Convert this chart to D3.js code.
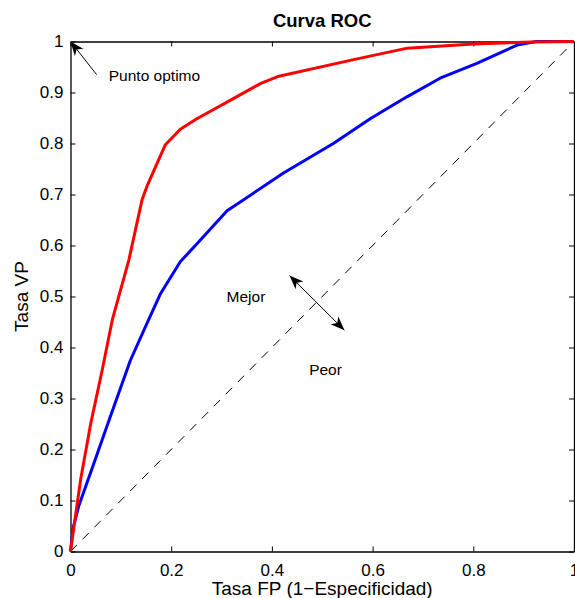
<!DOCTYPE html>
<html>
<head>
<meta charset="utf-8">
<script src="https://cdn.jsdelivr.net/npm/d3@7"></script>
<style>
  html, body { margin: 0; padding: 0; background: #fff; }
  svg { display: block; font-family: "Liberation Sans", Arial, Helvetica, sans-serif; }
</style>
</head>
<body>
<svg id="chart" width="575" height="598"></svg>
<script>
// ---- data ----
const redFPR = [0, 0.007, 0.02, 0.04, 0.063, 0.083, 0.116, 0.142, 0.153, 0.188, 0.218, 0.25, 0.327, 0.378, 0.414, 0.56, 0.669, 0.8, 0.916, 1];
const redTPR = [0, 0.05, 0.14, 0.25, 0.356, 0.454, 0.572, 0.689, 0.719, 0.797, 0.828, 0.848, 0.89, 0.918, 0.932, 0.964, 0.987, 0.995, 0.999, 1];
const blueFPR = [0, 0.005, 0.016, 0.043, 0.079, 0.119, 0.155, 0.179, 0.218, 0.258, 0.311, 0.423, 0.522, 0.596, 0.669, 0.734, 0.807, 0.887, 0.925, 1];
const blueTPR = [0, 0.045, 0.088, 0.163, 0.264, 0.375, 0.454, 0.506, 0.568, 0.611, 0.668, 0.742, 0.8, 0.849, 0.892, 0.928, 0.957, 0.993, 1, 1];
const diagFPR = [0, 1];
const diagTPR = [0, 1];
const xTicks = [0, 0.2, 0.4, 0.6, 0.8, 1];
const yTicks = [0, 0.1, 0.2, 0.3, 0.4, 0.5, 0.6, 0.7, 0.8, 0.9, 1];
const xTickLabels = ["0", "0.2", "0.4", "0.6", "0.8", "1"];
const yTickLabels = ["0", "0.1", "0.2", "0.3", "0.4", "0.5", "0.6", "0.7", "0.8", "0.9", "1"];
const titleText = "Curva ROC";
const xLabelText = "Tasa FP (1\u2212Especificidad)";
const yLabelText = "Tasa VP";

// ---- layout ----
const L = 70.5, R = 574, T = 41.5, B = 551.5;
const svg = d3.select("#chart");
svg.append("rect").attr("width", 575).attr("height", 598).attr("fill", "#fff");

const x = d3.scaleLinear().domain([0, 1]).range([L, R]);
const y = d3.scaleLinear().domain([0, 1]).range([B, T]);

const fontTick = 17;

// axes (box with inward ticks on all sides)
const tl = 5;
const gB = svg.append("g").attr("transform", `translate(0,${B})`)
  .call(d3.axisBottom(x).tickValues(xTicks).tickSizeInner(-tl).tickSizeOuter(0).tickPadding(11)
    .tickFormat((d, i) => xTickLabels[i]));
const gT = svg.append("g").attr("transform", `translate(0,${T})`)
  .call(d3.axisTop(x).tickValues(xTicks).tickSizeInner(-tl).tickSizeOuter(0).tickFormat(""));
const gL = svg.append("g").attr("transform", `translate(${L},0)`)
  .call(d3.axisLeft(y).tickValues(yTicks).tickSizeInner(-tl).tickSizeOuter(0).tickPadding(7)
    .tickFormat((d, i) => yTickLabels[i]));
const gR = svg.append("g").attr("transform", `translate(${R},0)`)
  .call(d3.axisRight(y).tickValues(yTicks).tickSizeInner(-tl).tickSizeOuter(0).tickFormat(""));
[gB, gT, gL, gR].forEach(g => {
  g.selectAll(".domain").attr("stroke", "#000").attr("stroke-width", 1.3);
  g.selectAll(".tick line").attr("stroke", "#000").attr("stroke-width", 1);
  g.selectAll("text").attr("fill", "#000").attr("font-size", fontTick)
    .attr("font-family", "'Liberation Sans', Arial, sans-serif");
});
gB.selectAll("text").attr("dy", null).attr("dominant-baseline", "alphabetic").attr("y", 24);

// curves
const line = d3.line().x(d => x(d[0])).y(d => y(d[1]));
const diagData = d3.zip(diagFPR, diagTPR);
svg.append("path").datum(diagData).attr("d", line)
  .attr("fill", "none").attr("stroke", "#000").attr("stroke-width", 1)
  .attr("stroke-dasharray", "9,8");
svg.append("path").datum(d3.zip(blueFPR, blueTPR)).attr("d", line)
  .attr("fill", "none").attr("stroke", "#0000ff").attr("stroke-width", 3)
  .attr("stroke-linejoin", "round");
svg.append("path").datum(d3.zip(redFPR, redTPR)).attr("d", line)
  .attr("fill", "none").attr("stroke", "#ff0000").attr("stroke-width", 3)
  .attr("stroke-linejoin", "round");

// arrow helper
function arrowHead(tipX, tipY, fromX, fromY) {
  const dx = tipX - fromX, dy = tipY - fromY;
  const len = Math.hypot(dx, dy);
  const ux = dx / len, uy = dy / len;
  const px = -uy, py = ux;
  const hl = 14, hw = 5.5, back = 10;
  const pts = [
    [tipX, tipY],
    [tipX - ux * hl + px * hw, tipY - uy * hl + py * hw],
    [tipX - ux * back, tipY - uy * back],
    [tipX - ux * hl - px * hw, tipY - uy * hl - py * hw]
  ];
  svg.append("polygon").attr("points", pts.map(p => p.join(",")).join(" ")).attr("fill", "#000");
}
function arrowLine(x1, y1, x2, y2) {
  svg.append("line").attr("x1", x1).attr("y1", y1).attr("x2", x2).attr("y2", y2)
    .attr("stroke", "#000").attr("stroke-width", 1);
}

// Punto optimo annotation
const poTail = [x(0.052), y(0.935)], poTip = [x(0), y(1)];
arrowLine(poTail[0], poTail[1], poTip[0] + 4, poTip[1] + 5);
arrowHead(poTip[0], poTip[1], poTail[0], poTail[1]);
svg.append("text").attr("x", x(0.076)).attr("y", y(0.922)).attr("font-size", 15.5)
  .attr("fill", "#000").text("Punto optimo");

// Mejor / Peor double arrow
const dA = [x(0.435), y(0.541)], dB = [x(0.544), y(0.434)];
arrowLine(dA[0], dA[1], dB[0], dB[1]);
arrowHead(dA[0], dA[1], dB[0], dB[1]);
arrowHead(dB[0], dB[1], dA[0], dA[1]);
svg.append("text").attr("x", x(0.31)).attr("y", y(0.49)).attr("font-size", 15.5)
  .attr("fill", "#000").text("Mejor");
svg.append("text").attr("x", x(0.474)).attr("y", y(0.346)).attr("font-size", 15.5)
  .attr("fill", "#000").text("Peor");

// titles
svg.append("text").attr("x", (L + R) / 2).attr("y", 27).attr("text-anchor", "middle")
  .attr("font-size", 18.5).attr("font-weight", "bold").attr("fill", "#000").text(titleText);
svg.append("text").attr("x", (L + R) / 2).attr("y", 595).attr("text-anchor", "middle")
  .attr("font-size", 19).attr("fill", "#000").text(xLabelText);
svg.append("text").attr("transform", `translate(28,${(T + B) / 2}) rotate(-90)`)
  .attr("text-anchor", "middle").attr("font-size", 19).attr("fill", "#000").text(yLabelText);
</script>
</body>
</html>
